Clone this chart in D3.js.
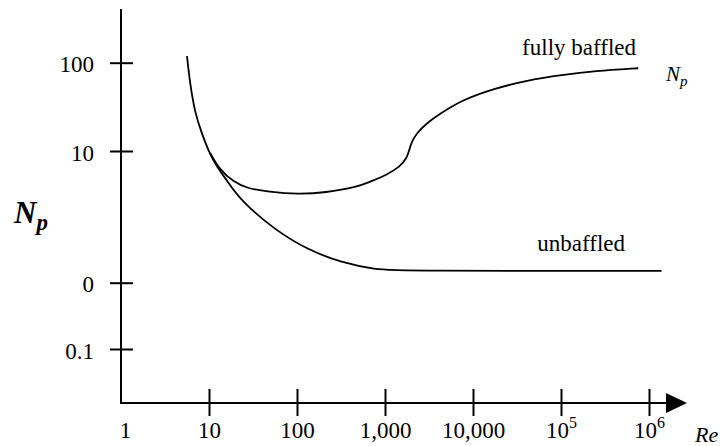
<!DOCTYPE html>
<html>
<head>
<meta charset="utf-8">
<script src="https://cdn.jsdelivr.net/npm/d3@7"></script>
</head>
<body style="margin:0">
<svg width="726" height="446" font-family="Liberation Serif"></svg>
<script>
const svg = d3.select("svg");
const serif = "Liberation Serif";

// Reynolds number ticks (log axis)
const xTickValues = [1, 10, 100, 1000, 10000, 1e5, 1e6];
const xTickLabels = [["1"], ["10"], ["100"], ["1,000"], ["10,000"], ["10", "5"], ["10", "6"]];

// power number ticks (schematic log axis, as labelled in the original)
const yTickValues = [100, 10, 1, 0.1];
const yTickLabels = ["100", "10", "0", "0.1"];

// unbaffled tank : [Re, Np]
const unbaffled = [
  [5.62, 119], [6.08, 58.5], [6.93, 26.9], [8.26, 16.0], [9.87, 10],
  [12.2, 7.6], [15.9, 6.03], [22.5, 4.25], [56.2, 2.51], [134, 1.77],
  [322, 1.42], [769, 1.26], [1549, 1.23], [1.39e6, 1.23]
];

// fully baffled tank : [Re, Np]
const baffled = [
  [10.3, 9.65], [13.3, 7.17], [18.9, 5.85], [26.8, 5.21], [47.2, 4.91],
  [103, 4.69], [208, 4.82], [497, 5.36], [676, 5.85], [1045, 6.58],
  [1479, 7.6], [1765, 8.8], [1889, 10.3], [2010, 12.7], [2290, 15.9],
  [2980, 20.6], [4040, 25.6], [7450, 37.8], [17800, 51.3], [42500, 63.7],
  [1.02e5, 72.6], [2.43e5, 80.5], [7.55e5, 86.5]
];

const x0 = 121, y0 = 403;

const x = d3.scaleLog().domain([1, 1e6]).range([x0, 649]);
// piecewise log scale: the decades are not evenly spaced in the sketch
const y = d3.scaleLog().domain([0.1, 1, 10, 100]).range([349, 282.7, 151, 62.7]);

const line = d3.line()
  .x(d => x(d[0]))
  .y(d => y(d[1]))
  .curve(d3.curveBasis);

// annotations
svg.append("text")
  .attr("x", 636).attr("y", 55)
  .attr("text-anchor", "end")
  .attr("font-family", serif)
  .attr("font-size", 23)
  .text("fully baffled");

svg.append("text")
  .attr("x", 625).attr("y", 251)
  .attr("text-anchor", "end")
  .attr("font-family", serif)
  .attr("font-size", 23)
  .text("unbaffled");

const npLabel = svg.append("text")
  .attr("x", 666).attr("y", 81)
  .attr("font-family", serif)
  .attr("font-size", 21)
  .attr("font-style", "italic");
npLabel.append("tspan").text("N");
npLabel.append("tspan").attr("dy", 5).attr("font-size", 15).text("p");

// axis titles
const npTitle = svg.append("text")
  .attr("x", 14).attr("y", 223)
  .attr("font-family", serif)
  .attr("font-size", 31)
  .attr("font-weight", "bold")
  .attr("font-style", "italic");
npTitle.append("tspan").text("N");
npTitle.append("tspan").attr("dy", 7).attr("font-size", 23).text("p");

svg.append("text")
  .attr("x", 695).attr("y", 442)
  .attr("font-family", serif)
  .attr("font-size", 22)
  .attr("font-style", "italic")
  .text("Re");

// curves
[unbaffled, baffled].forEach(s => {
  svg.append("path")
    .datum(s)
    .attr("fill", "none")
    .attr("stroke", "#000")
    .attr("stroke-width", 1.8)
    .attr("d", line);
});

// y axis
const gy = svg.append("g")
  .attr("transform", `translate(${x0},0)`)
  .call(d3.axisLeft(y).tickValues(yTickValues)
    .tickFormat((d, i) => yTickLabels[i])
    .tickSizeInner(11).tickPadding(16));
gy.attr("font-family", serif);
gy.select(".domain").remove();
gy.selectAll(".tick line").attr("x1", 12).attr("stroke-width", 2);
gy.selectAll(".tick text")
  .attr("font-family", serif)
  .attr("font-size", 23)
  .attr("dy", "0.4em");

svg.append("line")
  .attr("x1", x0).attr("x2", x0)
  .attr("y1", 9).attr("y2", y0 + 1)
  .attr("stroke", "#000").attr("stroke-width", 2);

// x axis
const gx = svg.append("g")
  .attr("transform", `translate(0,${y0})`)
  .call(d3.axisBottom(x).tickValues(xTickValues).tickSizeInner(13));
gx.attr("font-family", serif);
gx.select(".domain").remove();
gx.selectAll(".tick line")
  .attr("y1", -14)
  .attr("stroke-width", 2)
  .attr("display", d => d === 1 ? "none" : null);
gx.selectAll(".tick text")
  .attr("font-family", serif)
  .attr("font-size", 23)
  .attr("y", 35).attr("dy", null)
  .text(null)
  .each(function(d, i) {
    const t = d3.select(this);
    const lab = xTickLabels[i];
    t.append("tspan").text(lab[0]);
    if (lab.length > 1) {
      t.append("tspan").attr("dy", -10).attr("font-size", 16).text(lab[1]);
    }
  });
gx.selectAll(".tick")
  .filter(d => d === 1)
  .select("text").attr("dx", 4);

svg.append("line")
  .attr("x1", x0 - 1).attr("x2", 668)
  .attr("y1", y0).attr("y2", y0)
  .attr("stroke", "#000").attr("stroke-width", 2);

svg.append("path")
  .attr("d", `M666,${y0 - 10}L687,${y0}L666,${y0 + 10}Z`)
  .attr("fill", "#000");
</script>
</body>
</html>
